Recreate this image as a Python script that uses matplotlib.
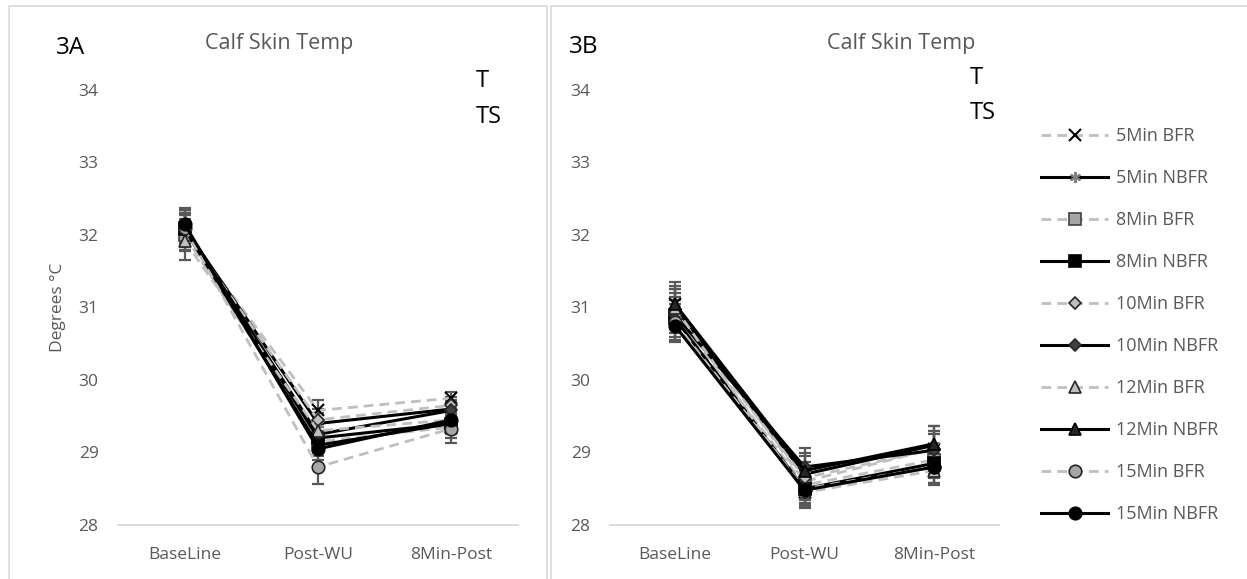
import numpy as np
import matplotlib.pyplot as plt
from matplotlib.patches import Rectangle

plt.rcParams['font.family'] = ['Open Sans', 'DejaVu Sans']

W, H = 1247, 579

categories = ['BaseLine', 'Post-WU', '8Min-Post']
series_names = ['5Min BFR', '5Min NBFR', '8Min BFR', '8Min NBFR', '10Min BFR',
                '10Min NBFR', '12Min BFR', '12Min NBFR', '15Min BFR', '15Min NBFR']

# panel 3A means
a_5bfr = [32.05, 29.58, 29.75]
a_5nbfr = [32.10, 29.40, 29.60]
a_8bfr = [32.00, 29.15, 29.35]
a_8nbfr = [32.10, 29.20, 29.40]
a_10bfr = [32.05, 29.45, 29.65]
a_10nbfr = [32.10, 29.25, 29.58]
a_12bfr = [31.92, 29.30, 29.45]
a_12nbfr = [32.08, 29.10, 29.40]
a_15bfr = [32.10, 28.80, 29.33]
a_15nbfr = [32.15, 29.05, 29.45]

# panel 3A error (SE)
a_err = [[0.25, 0.15, 0.08], [0.20, 0.15, 0.12], [0.22, 0.15, 0.15], [0.20, 0.15, 0.15],
         [0.22, 0.15, 0.12], [0.20, 0.15, 0.12], [0.27, 0.15, 0.15], [0.20, 0.15, 0.15],
         [0.25, 0.23, 0.20], [0.22, 0.15, 0.15]]

# panel 3B means
b_5bfr = [31.05, 28.60, 29.05]
b_5nbfr = [31.00, 28.70, 29.10]
b_8bfr = [30.90, 28.55, 28.90]
b_8nbfr = [30.85, 28.50, 28.85]
b_10bfr = [30.95, 28.65, 29.05]
b_10nbfr = [30.90, 28.80, 29.03]
b_12bfr = [31.00, 28.45, 28.75]
b_12nbfr = [31.05, 28.75, 29.12]
b_15bfr = [30.80, 28.50, 28.80]
b_15nbfr = [30.75, 28.48, 28.80]

b_err = [[0.30, 0.20, 0.25], [0.25, 0.25, 0.27], [0.25, 0.20, 0.20], [0.25, 0.20, 0.20],
         [0.25, 0.22, 0.25], [0.20, 0.26, 0.22], [0.25, 0.20, 0.20], [0.25, 0.25, 0.25],
         [0.25, 0.22, 0.22], [0.23, 0.25, 0.22]]

a_vals = [a_5bfr, a_5nbfr, a_8bfr, a_8nbfr, a_10bfr, a_10nbfr, a_12bfr, a_12nbfr, a_15bfr, a_15nbfr]
b_vals = [b_5bfr, b_5nbfr, b_8bfr, b_8nbfr, b_10bfr, b_10nbfr, b_12bfr, b_12nbfr, b_15bfr, b_15nbfr]

asterisk = (6, 2, 0)
dash_gray = '#bfbfbf'
# (line color, dashed?, marker, face, edge, size)
styles = [
    (dash_gray, True, 'x', 'black', 'black', 8),
    ('black', False, asterisk, '#808080', '#808080', 8),
    (dash_gray, True, 's', '#a6a6a6', '#404040', 8),
    ('black', False, 's', 'black', 'black', 8),
    (dash_gray, True, 'D', '#bfbfbf', '#262626', 6),
    ('black', False, 'D', '#404040', '#262626', 6),
    (dash_gray, True, '^', '#bfbfbf', '#262626', 8),
    ('black', False, '^', '#262626', 'black', 8),
    (dash_gray, True, 'o', '#a6a6a6', '#262626', 9),
    ('black', False, 'o', 'black', 'black', 9),
]

fig = plt.figure(figsize=(W / 100, H / 100), dpi=100)

# chart frames
fig.patches.append(Rectangle((9 / W, -0.1), (547 - 9) / W, 1.1 - 6 / H, transform=fig.transFigure,
                             fill=False, edgecolor='#d9d9d9', lw=1.2))
fig.patches.append(Rectangle((551 / W, -0.1), (1260 - 551) / W, 1.1 - 6 / H, transform=fig.transFigure,
                             fill=False, edgecolor='#d9d9d9', lw=1.2))

ax1 = fig.add_axes([118 / W, 1 - 525 / H, 400 / W, 435 / H])
ax2 = fig.add_axes([610 / W, 1 - 525 / H, 389 / W, 435 / H])

x = np.arange(len(categories))
handles = []
for ax, vals, errs in [(ax1, a_vals, a_err), (ax2, b_vals, b_err)]:
    for i, (v, e) in enumerate(zip(vals, errs)):
        ax.errorbar(x, v, yerr=e, fmt='none', ecolor='#595959', elinewidth=1.6,
                    capsize=4.5, capthick=1.6, zorder=2)
    handles = []
    for i, v in enumerate(vals):
        col, dashed, mk, fc, ec, ms = styles[i]
        ls = (0, (3.5, 2.2)) if dashed else '-'
        lw = 2.0 if dashed else 2.2
        h, = ax.plot(x, v, color=col, ls=ls, lw=lw, marker=mk, markerfacecolor=fc,
                     markeredgecolor=ec, markeredgewidth=1.5 if mk in ('x', asterisk) else 1.2,
                     markersize=ms, label=series_names[i], zorder=3 + i * 0.1)
        handles.append(h)

    ax.set_xlim(-0.5, 2.5)
    ax.set_ylim(28, 34)
    ax.set_xticks(x)
    ax.set_xticklabels(categories)
    ax.set_yticks(range(28, 35))
    ax.tick_params(axis='both', length=0, labelsize=12.5, labelcolor='#595959')
    ax.tick_params(axis='y', pad=14)
    ax.tick_params(axis='x', pad=16)
    for s in ['top', 'right', 'left']:
        ax.spines[s].set_visible(False)
    ax.spines['bottom'].set_color('#d9d9d9')
    ax.spines['bottom'].set_linewidth(1.3)
    ax.patch.set_alpha(0)

ax1.set_ylabel('Degrees °C', fontsize=12.5, color='#595959', labelpad=9)

# titles and panel tags
fig.text(279 / W, 1 - 44 / H, 'Calf Skin Temp', ha='center', va='center', fontsize=15.5, color='#595959')
fig.text(901 / W, 1 - 44 / H, 'Calf Skin Temp', ha='center', va='center', fontsize=15.5, color='#595959')
fig.text(56 / W, 1 - 48 / H, '3A', ha='left', va='center', fontsize=17.5, color='black')
fig.text(569 / W, 1 - 47 / H, '3B', ha='left', va='center', fontsize=17.5, color='black')
fig.text(476 / W, 1 - 81 / H, 'T', ha='left', va='center', fontsize=17, color='black')
fig.text(476 / W, 1 - 117 / H, 'TS', ha='left', va='center', fontsize=17, color='black')
fig.text(970 / W, 1 - 78 / H, 'T', ha='left', va='center', fontsize=17, color='black')
fig.text(970 / W, 1 - 113 / H, 'TS', ha='left', va='center', fontsize=17, color='black')

leg = fig.legend(handles=handles, loc='upper left', bbox_to_anchor=(1034 / W, 1 - 120 / H),
                 frameon=False, fontsize=13, labelcolor='#595959', handlelength=3.7,
                 handletextpad=0.45, labelspacing=1.33, borderaxespad=0)

fig.savefig('out.png', dpi=100)
